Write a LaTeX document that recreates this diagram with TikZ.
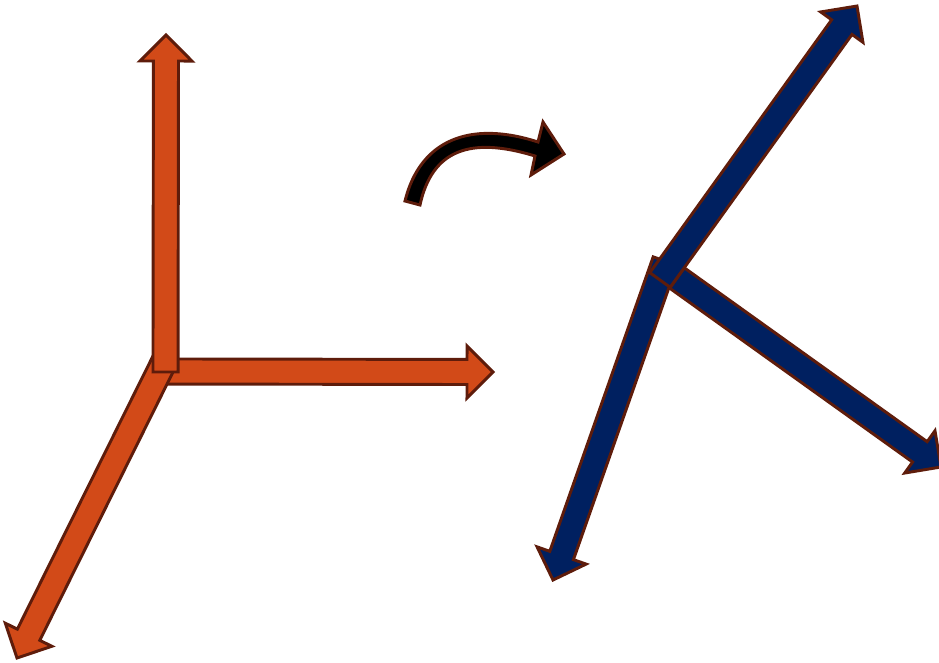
\documentclass[tikz,border=0pt]{standalone}
\usetikzlibrary{calc}
\definecolor{orng}{HTML}{D24A18}
\definecolor{navy}{HTML}{002060}
\definecolor{edgebrown}{HTML}{5E1C0B}
\tikzset{
  orangearrow/.style={fill=orng,draw=edgebrown,line width=2.2pt},
  bluearrow/.style={fill=navy,draw=edgebrown,line width=2.2pt},
  curvedarrow/.style={fill=black,draw=edgebrown,line width=2.2pt}
}
% #1 style, #2 start coordinate, #3 tip coordinate
\newcommand\blockarr[3]{%
  \coordinate (bahead) at ($(#3)!19.5pt!(#2)$);
  \draw[#1] ($(#2)!9.4pt!90:(#3)$) -- ($(bahead)!9.4pt!-90:(#2)$)
    -- ($(bahead)!19.5pt!-90:(#2)$) -- (#3)
    -- ($(bahead)!19.5pt!90:(#2)$) -- ($(bahead)!9.4pt!90:(#2)$)
    -- ($(#2)!9.4pt!-90:(#3)$) -- cycle;}
\begin{document}
\begin{tikzpicture}[x=0.75pt,y=-0.75pt,line join=miter]
\useasboundingbox (0,0) rectangle (939,662);
% orange axes
\coordinate (oHs) at (166,371.5);
\coordinate (oHe) at (493,372);
\coordinate (oDs) at (164,362);
\coordinate (oDe) at (17,658);
\coordinate (oVs) at (165.5,372);
\coordinate (oVe) at (166,35);
\blockarr{orangearrow}{oHs}{oHe}
\blockarr{orangearrow}{oDs}{oDe}
\blockarr{orangearrow}{oVs}{oVe}
% curved arrow
\draw[curvedarrow] (405,201) .. controls (420,140) and (470,120) .. (538,142)
  -- (543,122) -- (564,154) -- (531,175) -- (535,156)
  .. controls (470,136) and (432,150) .. (420,205) -- cycle;
% blue axes
\coordinate (bDs) at (665,261);
\coordinate (bDe) at (553,580);
\coordinate (bRs) at (677,278);
\coordinate (bRe) at (941,467);
\coordinate (bUs) at (660,280);
\coordinate (bUe) at (857,6);
\blockarr{bluearrow}{bDs}{bDe}
\blockarr{bluearrow}{bRs}{bRe}
\blockarr{bluearrow}{bUs}{bUe}
\end{tikzpicture}
\end{document}
